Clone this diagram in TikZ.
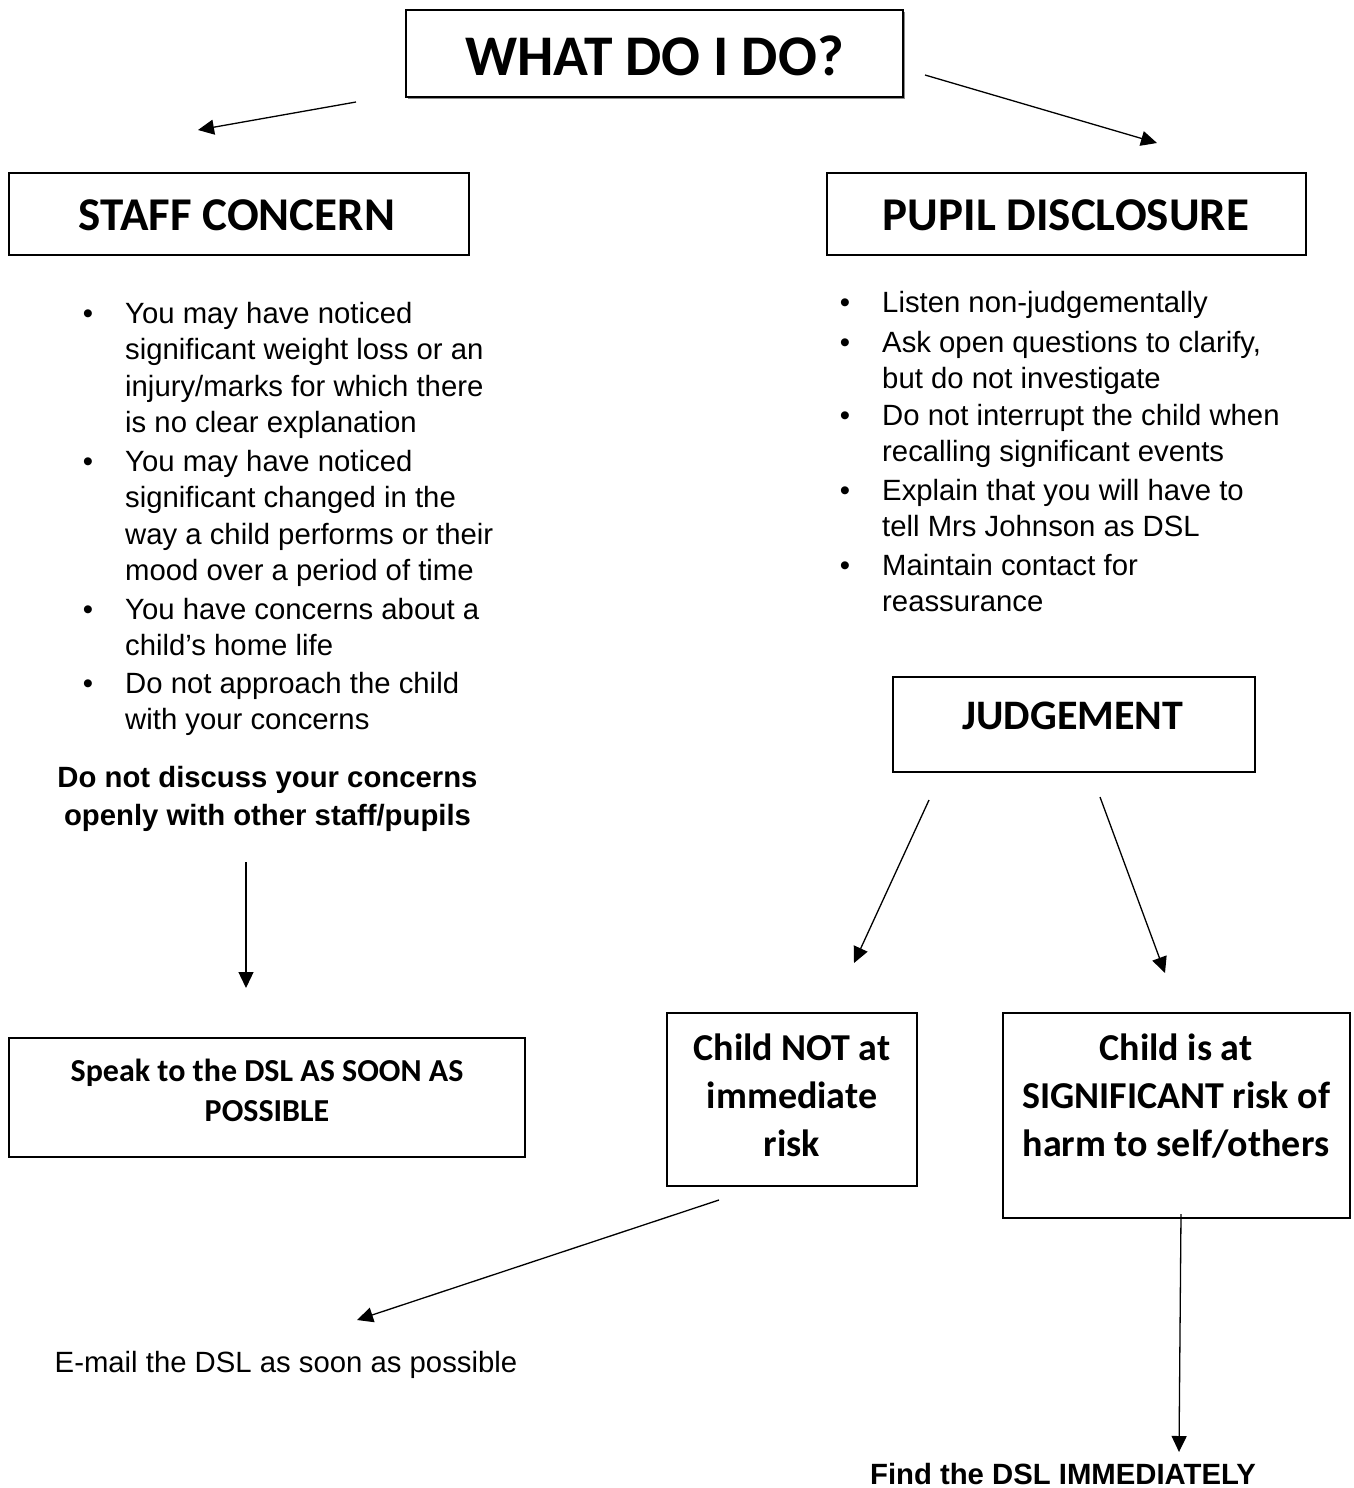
\documentclass[tikz,border=0pt]{standalone}
\usepackage{fontspec}
\setmainfont{Liberation Sans}
\newfontfamily\calfont{Carlito}
\usetikzlibrary{arrows.meta,shadows}
\begin{document}
\begin{tikzpicture}[x=1pt,y=-1pt,
  box/.style={draw, line width=1.8pt, inner sep=0},
  shadowbox/.style={box, drop shadow={shadow xshift=2pt, shadow yshift=-2pt, fill=black!45, opacity=1}, fill=white},
  bighead/.style={font=\calfont\bfseries\fontsize{57.5}{68}\selectfont, inner sep=0, anchor=base},
  head/.style={font=\calfont\bfseries\fontsize{47}{57}\selectfont, inner sep=0, anchor=base},
  judgehead/.style={font=\calfont\bfseries\fontsize{42}{51}\selectfont, inner sep=0, anchor=base},
  boxtxt/.style={font=\calfont\bfseries\fontsize{38}{48}\selectfont, inner sep=0, anchor=north, align=center},
  speaktxt/.style={font=\calfont\bfseries\fontsize{32}{40}\selectfont, inner sep=0, anchor=north, align=center},
  body/.style={font=\fontsize{29.3}{36.5}\selectfont, inner sep=0, anchor=north west, align=left},
  boldbody/.style={font=\bfseries\fontsize{29.3}{38}\selectfont, inner sep=0, anchor=north, align=center},
  plain/.style={font=\fontsize{29.3}{36.5}\selectfont, inner sep=0, anchor=base},
  plainbold/.style={font=\bfseries\fontsize{29.3}{36.5}\selectfont, inner sep=0, anchor=base},
  bul/.style={font=\fontsize{29.3}{36.5}\selectfont, inner sep=0, anchor=base},
  arr/.style={line width=1.3pt, -{Triangle[length=16pt,width=15pt]}}
]
\useasboundingbox (0,0) rectangle (1354,1488);

% boxes
\node[shadowbox, minimum width=497, minimum height=87] (top) at (654.5,53.5) {};
\node[box, minimum width=460, minimum height=82] (staff) at (239,214) {};
\node[box, minimum width=479, minimum height=82] (pupil) at (1066.5,214) {};
\node[box, minimum width=362, minimum height=95] (judge) at (1074,724.5) {};
\node[box, minimum width=516, minimum height=119] (speak) at (267,1097.5) {};
\node[box, minimum width=250, minimum height=173] (notrisk) at (792,1099.5) {};
\node[box, minimum width=347, minimum height=205] (sigrisk) at (1176.5,1115.5) {};

% headings
\node[bighead] (toptxt) at (654.5,75) {WHAT DO I DO?};
\node[head] (stafftxt) at (237,230) {STAFF CONCERN};
\node[head] (pupiltxt) at (1066,230) {PUPIL DISCLOSURE};
\node[judgehead] (judgetxt) at (1073,729) {JUDGEMENT};
\node[speaktxt] (speaktext) at (267,1081-28) {\strut Speak to the DSL AS SOON AS\\POSSIBLE};
\node[boxtxt] (notrisktxt) at (792,1060-33.6) {\strut Child NOT at\\immediate\\risk};
\node[boxtxt] (sigrisktxt) at (1176,1060-33.6) {\strut Child is at\\SIGNIFICANT risk of\\harm to self/others};

% left bullets
\node[bul] (lb1) at (88,323) {•};
\node[body] (li1) at (125,323-25.55) {\strut You may have noticed\\significant weight loss or an\\injury/marks for which there\\is no clear explanation};
\node[bul] (lb2) at (88,471) {•};
\node[body] (li2) at (125,471-25.55) {\strut You may have noticed\\significant changed in the\\way a child performs or their\\mood over a period of time};
\node[bul] (lb3) at (88,619) {•};
\node[body] (li3) at (125,619-25.55) {\strut You have concerns about a\\child’s home life};
\node[bul] (lb4) at (88,693) {•};
\node[body] (li4) at (125,693-25.55) {\strut Do not approach the child\\with your concerns};
\node[boldbody] (warn) at (267.5,787-26.6) {\strut Do not discuss your concerns\\openly with other staff/pupils};

% right bullets
\node[bul] (rb1) at (845,312) {•};
\node[body] (ri1) at (882,312-25.55) {\strut Listen non-judgementally};
\node[bul] (rb2) at (845,352) {•};
\node[body] (ri2) at (882,352-25.55) {\strut Ask open questions to clarify,\\but do not investigate};
\node[bul] (rb3) at (845,425) {•};
\node[body] (ri3) at (882,425-25.55) {\strut Do not interrupt the child when\\recalling significant events};
\node[bul] (rb4) at (845,500) {•};
\node[body] (ri4) at (882,500-25.55) {\strut Explain that you will have to\\tell Mrs Johnson as DSL};
\node[bul] (rb5) at (845,575) {•};
\node[body] (ri5) at (882,575-25.55) {\strut Maintain contact for\\reassurance};

% free texts
\node[plain] (email) at (286,1372) {E-mail the DSL as soon as possible};
\node[plainbold] (find) at (1063,1484) {Find the DSL IMMEDIATELY};

% connector end points
\coordinate (a1s) at (356,102);  \coordinate (a1e) at (198,130);
\coordinate (a2s) at (925,75);   \coordinate (a2e) at (1157,143);
\coordinate (a3s) at (246,862);  \coordinate (a3e) at (246,988);
\coordinate (a4s) at (929,800);  \coordinate (a4e) at (854,963);
\coordinate (a5s) at (1100,797); \coordinate (a5e) at (1165,973);
\coordinate (a6s) at (719,1200); \coordinate (a6e) at (357,1320);
\coordinate (a7s) at (1181,1214);\coordinate (a7e) at (1179,1452);

\draw[arr] (a1s) -- (a1e);
\draw[arr] (a2s) -- (a2e);
\draw[arr] (a3s) -- (a3e);
\draw[arr] (a4s) -- (a4e);
\draw[arr] (a5s) -- (a5e);
\draw[arr] (a6s) -- (a6e);
\draw[arr] (a7s) -- (a7e);
\end{tikzpicture}
\end{document}
